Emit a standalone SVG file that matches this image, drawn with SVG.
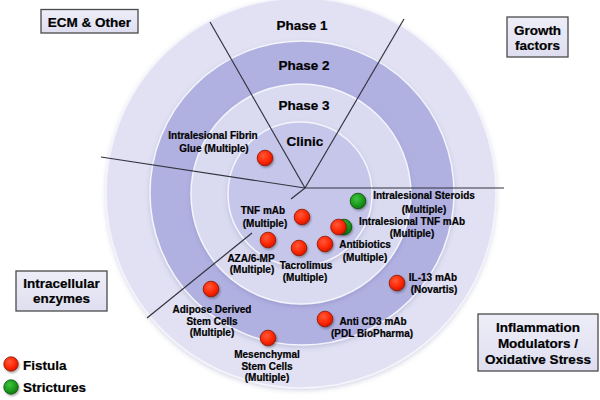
<svg xmlns="http://www.w3.org/2000/svg" width="600" height="400" viewBox="0 0 600 400">
<defs>
<radialGradient id="gRed" cx="40%" cy="35%" r="65%">
<stop offset="0" stop-color="#ff5a3a"/>
<stop offset="0.6" stop-color="#ff2a08"/>
<stop offset="1" stop-color="#d81800"/>
</radialGradient>
<radialGradient id="gGreen" cx="40%" cy="35%" r="65%">
<stop offset="0" stop-color="#3ec43e"/>
<stop offset="0.6" stop-color="#1f9e1f"/>
<stop offset="1" stop-color="#107a10"/>
</radialGradient>
<linearGradient id="gBox" x1="0" y1="0" x2="0" y2="1">
<stop offset="0" stop-color="#eeeef8"/>
<stop offset="1" stop-color="#dedef0"/>
</linearGradient>
<filter id="sh" x="-50%" y="-50%" width="200%" height="200%">
<feDropShadow dx="1" dy="1.5" stdDeviation="1.2" flood-color="#000" flood-opacity="0.35"/>
</filter>
<filter id="rs" x="-10%" y="-10%" width="120%" height="120%">
<feDropShadow dx="0" dy="2" stdDeviation="2" flood-color="#6060a0" flood-opacity="0.25"/>
</filter>
</defs>
<style>
text{font-family:"Liberation Sans",Arial,sans-serif;font-weight:bold;fill:#000;stroke:#000;stroke-width:0.2;text-anchor:middle}
.lbl{font-size:10px}
.ph{font-size:13.5px}
.cat{font-size:13.5px}
.leg{font-size:13.5px;text-anchor:start}
.box{fill:url(#gBox);stroke:#4a4a4a;stroke-width:1.3}
.red{fill:url(#gRed);stroke:#8a1500;stroke-width:0.8;filter:url(#sh)}
.grn{fill:url(#gGreen);stroke:#0b4f0b;stroke-width:0.8;filter:url(#sh)}
.ring{stroke:#f4f4fc;stroke-width:1.5;filter:url(#rs)}
.div{stroke:#33333f;stroke-width:1.2;fill:none}
</style>
<rect width="600" height="400" fill="#fff"/>

<g id="rings">
<circle class="ring" cx="301" cy="193" r="195" fill="#e1e1f3"/>
<circle class="ring" cx="302" cy="193" r="152" fill="#b0b0e1"/>
<circle class="ring" cx="301" cy="194" r="110" fill="#dadaf1"/>
<circle class="ring" cx="300" cy="194" r="72" fill="#c6c6ea"/>
</g>

<g id="connectors">
<line class="div" x1="210" y1="22" x2="305" y2="188"/>
<line class="div" x1="404" y1="19" x2="305" y2="188"/>
<line class="div" x1="101" y1="157" x2="305" y2="188"/>
<line class="div" x1="305" y1="188" x2="504" y2="188"/>
<line class="div" x1="305" y1="188" x2="291" y2="199"/>
<line class="div" x1="252" y1="233" x2="147" y2="318"/>
</g>

<g id="phase-labels">
<text class="ph" x="302" y="30">Phase 1</text>
<text class="ph" x="304" y="70">Phase 2</text>
<text class="ph" x="304" y="110">Phase 3</text>
<text class="ph" x="305" y="146">Clinic</text>
</g>

<g id="cat-ecm">
<rect class="box" x="41" y="9.5" width="97" height="23.5"/>
<text class="cat" x="89.5" y="26.5">ECM &amp; Other</text>
</g>
<g id="cat-growth">
<rect class="box" x="507" y="17" width="61" height="40"/>
<text class="cat" x="537.5" y="35">Growth</text>
<text class="cat" x="537.5" y="50">factors</text>
</g>
<g id="cat-intracellular">
<rect class="box" x="16" y="271" width="91" height="40"/>
<text class="cat" x="61.5" y="288">Intracellular</text>
<text class="cat" x="61.5" y="303">enzymes</text>
</g>
<g id="cat-inflammation">
<rect class="box" x="478" y="314" width="120" height="57"/>
<text class="cat" x="538" y="332">Inflammation</text>
<text class="cat" x="538" y="348">Modulators /</text>
<text class="cat" x="538" y="364">Oxidative Stress</text>
</g>

<g id="fibrin-glue">
<circle class="red" cx="265" cy="158" r="7.8"/>
<text class="lbl" x="213" y="139">Intralesional Fibrin</text>
<text class="lbl" x="214" y="152">Glue (Multiple)</text>
</g>
<g id="tnf-mab">
<circle class="red" cx="302" cy="217" r="7.8"/>
<text class="lbl" x="263" y="214">TNF mAb</text>
<text class="lbl" x="265" y="227">(Multiple)</text>
</g>
<g id="aza">
<circle class="red" cx="268" cy="240" r="7.8"/>
<text class="lbl" x="251" y="262">AZA/6-MP</text>
<text class="lbl" x="252" y="273">(Multiple)</text>
</g>
<g id="tacrolimus">
<circle class="red" cx="299" cy="248" r="7.8"/>
<text class="lbl" x="306" y="269">Tacrolimus</text>
<text class="lbl" x="305" y="281">(Multiple)</text>
</g>
<g id="antibiotics">
<circle class="red" cx="325" cy="244" r="7.8"/>
<text class="lbl" x="365" y="248">Antibiotics</text>
<text class="lbl" x="365" y="261">(Multiple)</text>
</g>
<g id="intralesional-steroids">
<circle class="grn" cx="358" cy="201" r="7.8"/>
<text class="lbl" x="424" y="199">Intralesional Steroids</text>
<text class="lbl" x="424" y="213">(Multiple)</text>
</g>
<g id="intralesional-tnf">
<circle class="grn" cx="344" cy="227" r="7.8"/>
<circle class="red" cx="338.5" cy="227" r="7.8"/>
<text class="lbl" x="412" y="225">Intralesional TNF mAb</text>
<text class="lbl" x="412" y="237">(Multiple)</text>
</g>
<g id="il13">
<circle class="red" cx="397" cy="283" r="7.8"/>
<text class="lbl" x="433" y="281">IL-13 mAb</text>
<text class="lbl" x="434" y="293">(Novartis)</text>
</g>
<g id="anti-cd3">
<circle class="red" cx="325" cy="319" r="7.8"/>
<text class="lbl" x="373" y="325">Anti CD3 mAb</text>
<text class="lbl" x="372" y="337">(PDL BioPharma)</text>
</g>
<g id="adipose">
<circle class="red" cx="211" cy="289" r="7.8"/>
<text class="lbl" x="212" y="313">Adipose Derived</text>
<text class="lbl" x="212" y="325">Stem Cells</text>
<text class="lbl" x="212" y="336">(Multiple)</text>
</g>
<g id="mesenchymal">
<circle class="red" cx="268" cy="338" r="7.8"/>
<text class="lbl" x="267" y="358">Mesenchymal</text>
<text class="lbl" x="267" y="370">Stem Cells</text>
<text class="lbl" x="267" y="381">(Multiple)</text>
</g>

<g id="legend">
<circle class="red" cx="11" cy="364" r="7.2"/>
<text class="leg" x="23" y="370">Fistula</text>
<circle class="grn" cx="11" cy="387" r="7.2"/>
<text class="leg" x="23" y="392">Strictures</text>
</g>
</svg>
